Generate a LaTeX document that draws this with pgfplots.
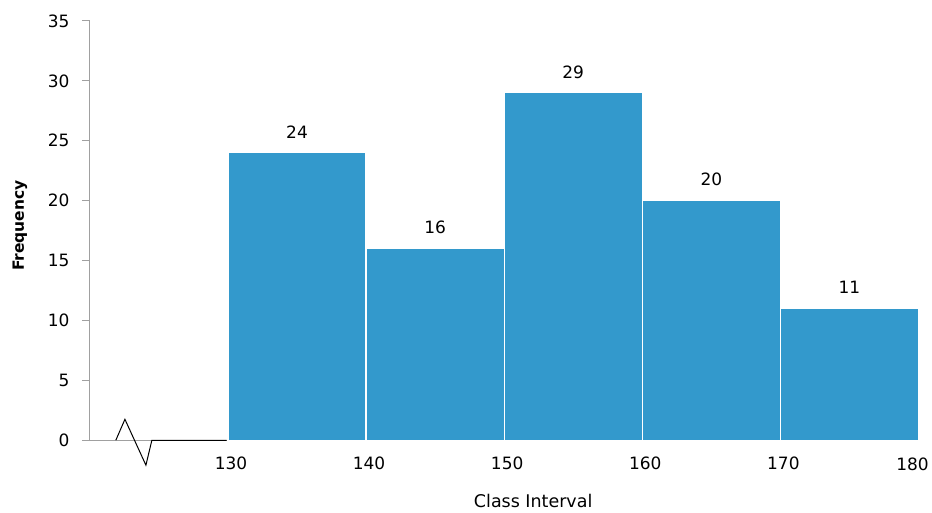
\documentclass[border=0pt]{standalone}
\usepackage{fontspec}
\setmainfont{DejaVu Sans}
\usepackage{pgfplots}
\pgfplotsset{compat=1.18}
\definecolor{barblue}{HTML}{3399CC}
\definecolor{axisgray}{HTML}{A0A0A0}
\begin{document}
\begin{tikzpicture}
\path (-90pt,-72pt) rectangle (842pt,441pt);
\begin{axis}[
  at={(0,0)}, anchor=south west,
  scale only axis, width=830pt, height=420pt,
  xmin=120, xmax=180, ymin=0, ymax=35,
  axis lines*=left,
  axis line style={draw=axisgray, line width=1pt},
  xtick={130,140,150,160,170},
  extra x ticks={180},
  extra x tick style={xticklabel style={xshift=-9pt, yshift=-9pt}, major tick length=0pt},
  ytick={0,5,...,35},
  xtick style={draw=none},
  ytick style={draw=axisgray, line width=1pt},
  tick align=outside,
  major tick length=8pt,
  /pgf/number format/assume math mode=true,
  tick label style={font=\fontsize{17}{20}\selectfont, text=black},
  xticklabel style={yshift=-5pt, xshift=3pt},
  yticklabel style={xshift=-9pt},
  clip=false,
  xlabel={Class Interval},
  ylabel={Frequency},
  xlabel style={at={(axis description cs:0.535,-0.145)}, anchor=center, font=\fontsize{17.5}{20}\selectfont},
  ylabel style={at={(axis description cs:-0.0843,0.512)}, anchor=center, rotate=0, font=\fontsize{15.5}{19}\selectfont\bfseries},
]
\addplot[ybar interval, fill=barblue, draw=white, line width=1.2pt]
  coordinates {(130,24) (140,16) (150,29) (160,20) (170,11) (180,11)};
\addplot[draw=none, mark=none, nodes near coords,
  every node near coord/.append style={font=\fontsize{17}{20}\selectfont, text=black, yshift=11pt}]
  coordinates {(135,24) (145,16) (155,29) (165,20) (175,11)};
\draw[black, line width=1pt] (axis cs:121.88,0) -- (axis cs:122.54,1.75) -- (axis cs:124.06,-2.08) -- (axis cs:124.49,0) -- (axis cs:129.9,0);
\end{axis}
\end{tikzpicture}
\end{document}
